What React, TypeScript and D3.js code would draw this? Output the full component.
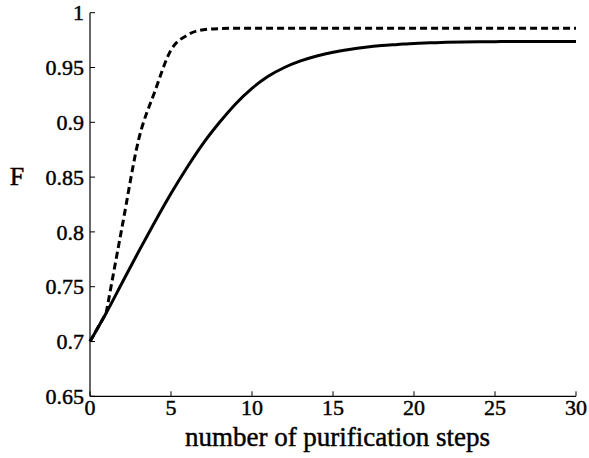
import React from "react";
import * as d3 from "d3";

const steps: number[] = d3.range(0, 31);
const solidF: number[] = [
  0.700, 0.726, 0.754, 0.782, 0.809, 0.835, 0.859, 0.881, 0.900, 0.917,
  0.931, 0.942, 0.950, 0.956, 0.9605, 0.964, 0.9665, 0.9685, 0.970, 0.971,
  0.972, 0.9725, 0.973, 0.9733, 0.9735, 0.9736, 0.9737, 0.9737, 0.9737, 0.9737, 0.9737,
];
const dashedF: number[] = [
  0.700, 0.726, 0.806, 0.884, 0.928, 0.966, 0.9795, 0.9845, 0.9855, 0.9858,
  0.9858, 0.9858, 0.9858, 0.9858, 0.9858, 0.9858, 0.9858, 0.9858, 0.9858, 0.9858,
  0.9858, 0.9858, 0.9858, 0.9858, 0.9858, 0.9858, 0.9858, 0.9858, 0.9858, 0.9858, 0.9858,
];
const xTicks: number[] = [0, 5, 10, 15, 20, 25, 30];
const yTicks: number[] = [0.65, 0.7, 0.75, 0.8, 0.85, 0.9, 0.95, 1];
const yTickLabels: string[] = ["0.65", "0.7", "0.75", "0.8", "0.85", "0.9", "0.95", "1"];

const W = 589;
const H = 458;
const left = 90;
const right = 576;
const top = 12.7;
const bottom = 396.3;
const font = "Liberation Serif, serif";

export default function App() {
  const x = d3.scaleLinear().domain([0, 30]).range([left, right]);
  const y = d3.scaleLinear().domain([0.65, 1]).range([bottom, top]);
  const line = d3
    .line<[number, number]>()
    .x((d) => x(d[0]))
    .y((d) => y(d[1]))
    .curve(d3.curveMonotoneX);
  const lineLin = d3
    .line<[number, number]>()
    .x((d) => x(d[0]))
    .y((d) => y(d[1]));

  const solidPts: [number, number][] = steps.map((s, i) => [s, solidF[i]]);
  const dashedPts: [number, number][] = steps.map((s, i) => [s, dashedF[i]]);

  const txt = { fontFamily: font, fill: "#000", stroke: "#000", strokeWidth: 0.45 } as const;

  return (
    <svg
      width={W}
      height={H}
      style={{ position: "absolute", left: 0, top: 0, background: "#fff" }}
    >
      <rect width={W} height={H} fill="#fff" />
      <line x1={left} x2={left} y1={top} y2={bottom} stroke="#000" strokeWidth={1.2} />
      <line x1={left} x2={right} y1={bottom} y2={bottom} stroke="#000" strokeWidth={1.2} />
      {yTicks.map((t, i) => (
        <g key={"y" + i}>
          <line x1={left} x2={left + 5} y1={y(t)} y2={y(t)} stroke="#000" strokeWidth={1} />
          <text x={84} y={y(t)} dy="0.35em" textAnchor="end" fontSize={22} style={txt}>
            {yTickLabels[i]}
          </text>
        </g>
      ))}
      {xTicks.map((t, i) => (
        <g key={"x" + i}>
          <line x1={x(t)} x2={x(t)} y1={bottom} y2={bottom - 5} stroke="#000" strokeWidth={1} />
          <text x={x(t)} y={415} textAnchor="middle" fontSize={22} style={txt}>
            {t}
          </text>
        </g>
      ))}
      <text x={337.5} y={446} textAnchor="middle" fontSize={27} style={txt}>
        number of purification steps
      </text>
      <text x={17} y={185} textAnchor="middle" fontSize={26} style={txt}>
        F
      </text>
      <path d={line(solidPts) || ""} fill="none" stroke="#000" strokeWidth={3} strokeLinejoin="round" />
      <path
        d={lineLin(dashedPts.slice(0, 2)) || ""}
        fill="none"
        stroke="#000"
        strokeWidth={3}
        strokeDasharray="7 4"
      />
      <path
        d={line(dashedPts.slice(1)) || ""}
        fill="none"
        stroke="#000"
        strokeWidth={3}
        strokeDasharray="7 4"
        strokeLinejoin="round"
      />
    </svg>
  );
}
